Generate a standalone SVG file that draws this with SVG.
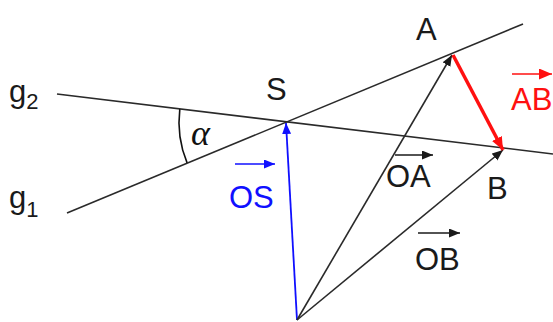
<svg xmlns="http://www.w3.org/2000/svg" width="553" height="322" viewBox="0 0 553 322">
  <style>
    .lbl { font-family: "Liberation Sans", Arial, sans-serif; font-size: 31px; fill: #1a1a1a; }
    .sub { font-size: 22px; }
    .line { stroke: #2a2a2a; stroke-width: 1.6; fill: none; }
    .tiny { stroke-width: 1.7; fill: none; }
  </style>
  <defs>
    <marker id="hk" markerUnits="userSpaceOnUse" markerWidth="12" markerHeight="10" refX="11" refY="4.5" orient="auto">
      <path d="M0,0 L11,4.5 L0,9 z" fill="#1a1a1a"/>
    </marker>
    <marker id="hb" markerUnits="userSpaceOnUse" markerWidth="12" markerHeight="10" refX="11" refY="4.5" orient="auto">
      <path d="M0,0 L11,4.5 L0,9 z" fill="#1010ff"/>
    </marker>
    <marker id="hr" markerUnits="userSpaceOnUse" markerWidth="14" markerHeight="12" refX="13" refY="5.5" orient="auto">
      <path d="M0,0 L13,5.5 L0,11 z" fill="#ff1010"/>
    </marker>
  </defs>

  <g id="lines">
    <line id="g2-line" class="line" x1="57" y1="94" x2="553" y2="154"/>
    <line id="g1-line" class="line" x1="67" y1="213" x2="523" y2="24"/>
    <path id="angle-arc" d="M179.8 109.1 A107 107 0 0 0 187.1 162.9" stroke="#111" stroke-width="1.6" fill="none"/>
  </g>

  <g id="connectors">
    <line id="OS" x1="297" y1="320" x2="286" y2="123" stroke="#1010ff" stroke-width="1.8" marker-end="url(#hb)"/>
    <line id="OA" x1="297" y1="320" x2="452" y2="55" stroke="#2a2a2a" stroke-width="1.6" marker-end="url(#hk)"/>
    <line id="OB" x1="297" y1="320" x2="503" y2="150" stroke="#2a2a2a" stroke-width="1.6" marker-end="url(#hk)"/>
    <line id="AB" x1="453" y1="55" x2="503" y2="150" stroke="#ff1010" stroke-width="3.5" marker-end="url(#hr)"/>
  </g>

  <g id="label-g2"><text class="lbl" x="9" y="102">g<tspan class="sub" dy="7">2</tspan></text></g>
  <g id="label-g1"><text class="lbl" x="9" y="208">g<tspan class="sub" dy="9">1</tspan></text></g>
  <g id="label-S"><text class="lbl" x="266" y="100">S</text></g>
  <g id="label-A"><text class="lbl" x="416" y="40">A</text></g>
  <g id="label-B"><text class="lbl" x="487" y="199">B</text></g>
  <g id="label-alpha"><text x="191" y="145" font-family="'Liberation Serif', 'DejaVu Serif', serif" font-style="italic" font-size="36" fill="#111">α</text></g>

  <g id="label-vecAB">
    <line class="tiny" x1="512" y1="74" x2="552" y2="74" stroke="#ff1010" marker-end="url(#hr)"/>
    <text class="lbl" x="511" y="110" style="fill:#ff1010">AB</text>
  </g>
  <g id="label-vecOA">
    <line class="tiny" x1="395" y1="155" x2="433" y2="155" stroke="#1a1a1a" marker-end="url(#hk)"/>
    <text class="lbl" x="386" y="187">OA</text>
  </g>
  <g id="label-vecOB">
    <line class="tiny" x1="418" y1="233" x2="460" y2="233" stroke="#1a1a1a" marker-end="url(#hk)"/>
    <text class="lbl" x="415" y="270">OB</text>
  </g>
  <g id="label-vecOS">
    <line class="tiny" x1="235" y1="164" x2="275" y2="164" stroke="#1010ff" marker-end="url(#hb)"/>
    <text class="lbl" x="229" y="208" style="fill:#1010ff">OS</text>
  </g>
</svg>
